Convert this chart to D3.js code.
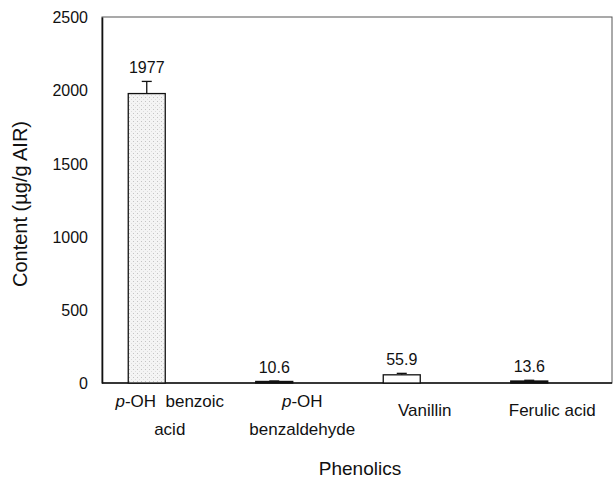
<!DOCTYPE html>
<html>
<head>
<meta charset="utf-8">
<script src="https://cdn.jsdelivr.net/npm/d3@7"></script>
<style>
  body { margin: 0; background: #fff; }
  text { font-family: "Liberation Sans", Arial, sans-serif; fill: #111; }
</style>
</head>
<body>
<svg id="chart"></svg>
<script>
// Phenolic content per compound
const categories = ['p-OH benzoic acid', 'p-OH benzaldehyde', 'Vanillin', 'Ferulic acid'];
const values = [1977, 10.6, 55.9, 13.6];
const errors = [83, 3, 10, 5];
const valueLabels = ['1977', '10.6', '55.9', '13.6'];
const yTicks = [0, 500, 1000, 1500, 2000, 2500];

const WIDTH = 613;
const HEIGHT = 479;
const margin = {top: 17, right: 1, bottom: 96, left: 102};

const svg = d3.select('#chart')
    .attr('width', WIDTH)
    .attr('height', HEIGHT);

// stipple fill for the big bar
const defs = svg.append('defs');
const pat = defs.append('pattern')
    .attr('id', 'stipple')
    .attr('width', 4).attr('height', 4)
    .attr('patternUnits', 'userSpaceOnUse');
pat.append('rect').attr('width', 4).attr('height', 4).attr('fill', '#f4f4f4');
pat.append('rect').attr('x', 1).attr('y', 1).attr('width', 1).attr('height', 1).attr('fill', '#c4c4c4');
pat.append('rect').attr('x', 3).attr('y', 3).attr('width', 1).attr('height', 1).attr('fill', '#dcdcdc');

const x = d3.scaleBand()
    .domain(categories)
    .range([margin.left, WIDTH - margin.right]);

const y = d3.scaleLinear()
    .domain([0, 2500])
    .range([HEIGHT - margin.bottom, margin.top]);

const barWidth = 37;
const barShift = -19; // bars sit left of the category centre

// frame
svg.append('rect')
    .attr('x', margin.left)
    .attr('y', margin.top)
    .attr('width', WIDTH - margin.right - margin.left)
    .attr('height', y(0) - margin.top)
    .attr('fill', 'none')
    .attr('stroke', '#555')
    .attr('stroke-width', 1);

// y axis, labels only
const yAxis = svg.append('g')
    .attr('transform', `translate(${margin.left},0)`)
    .call(d3.axisLeft(y).tickValues(yTicks).tickFormat(d3.format('d')).tickSize(0).tickPadding(14));
yAxis.select('.domain').attr('stroke', '#111').attr('stroke-width', 1.6);
yAxis.selectAll('text').style('font-size', '16px').attr('dy', '0.36em');

// x axis line
svg.append('line')
    .attr('x1', margin.left).attr('x2', WIDTH - margin.right)
    .attr('y1', y(0)).attr('y2', y(0))
    .attr('stroke', '#111').attr('stroke-width', 1.6);

const barX = d => x(d) + x.bandwidth() / 2 + barShift - barWidth / 2;

// error bars
const errG = svg.append('g');
categories.forEach((c, i) => {
    const cx = x(c) + x.bandwidth() / 2 + barShift;
    errG.append('line')
        .attr('x1', cx).attr('x2', cx)
        .attr('y1', y(values[i])).attr('y2', y(values[i] + errors[i]))
        .attr('stroke', '#111').attr('stroke-width', 1.3);
    errG.append('line')
        .attr('x1', cx - 5).attr('x2', cx + 5)
        .attr('y1', y(values[i] + errors[i])).attr('y2', y(values[i] + errors[i]))
        .attr('stroke', '#111').attr('stroke-width', 1.3);
});

// bars
svg.selectAll('.bar')
    .data(categories)
    .enter().append('rect')
    .attr('class', 'bar')
    .attr('x', d => barX(d))
    .attr('y', (d, i) => y(values[i]))
    .attr('width', barWidth)
    .attr('height', (d, i) => y(0) - y(values[i]))
    .attr('fill', (d, i) => i === 0 ? 'url(#stipple)' : (i === 2 ? '#fff' : '#111'))
    .attr('stroke', '#111')
    .attr('stroke-width', 1.3);

// value labels
svg.selectAll('.val')
    .data(categories)
    .enter().append('text')
    .attr('class', 'val')
    .attr('x', d => x(d) + x.bandwidth() / 2 + barShift)
    .attr('y', (d, i) => y(values[i] + errors[i]) - 8)
    .attr('text-anchor', 'middle')
    .style('font-size', '16px')
    .text((d, i) => valueLabels[i]);

// category labels
const catLines = [
    [['p', '-OH  benzoic'], ['', 'acid']],
    [['p', '-OH'], ['', 'benzaldehyde']],
    [['', 'Vanillin']],
    [['', 'Ferulic acid']]
];
const lineGap = 28;
categories.forEach((c, i) => {
    const lines = catLines[i];
    const y0 = y(0) + 33 - (lines.length - 1) * 9;
    lines.forEach((ln, j) => {
        const t = svg.append('text')
            .attr('x', x(c) + x.bandwidth() / 2 + 4 + (i === 1 ? 5 : 0))
            .attr('y', y0 + j * lineGap)
            .attr('text-anchor', 'middle')
            .style('font-size', '17px')
            .style('white-space', 'pre');
        if (ln[0]) t.append('tspan').style('font-style', 'italic').text(ln[0]);
        t.append('tspan').text(ln[1]);
    });
});

// axis titles
svg.append('text')
    .attr('x', 360)
    .attr('y', 475)
    .attr('text-anchor', 'middle')
    .style('font-size', '19px')
    .text('Phenolics');

svg.append('text')
    .attr('transform', `translate(27, ${(margin.top + y(0)) / 2 + 4}) rotate(-90)`)
    .attr('text-anchor', 'middle')
    .style('font-size', '20px')
    .text('Content (µg/g AIR)');
</script>
</body>
</html>
